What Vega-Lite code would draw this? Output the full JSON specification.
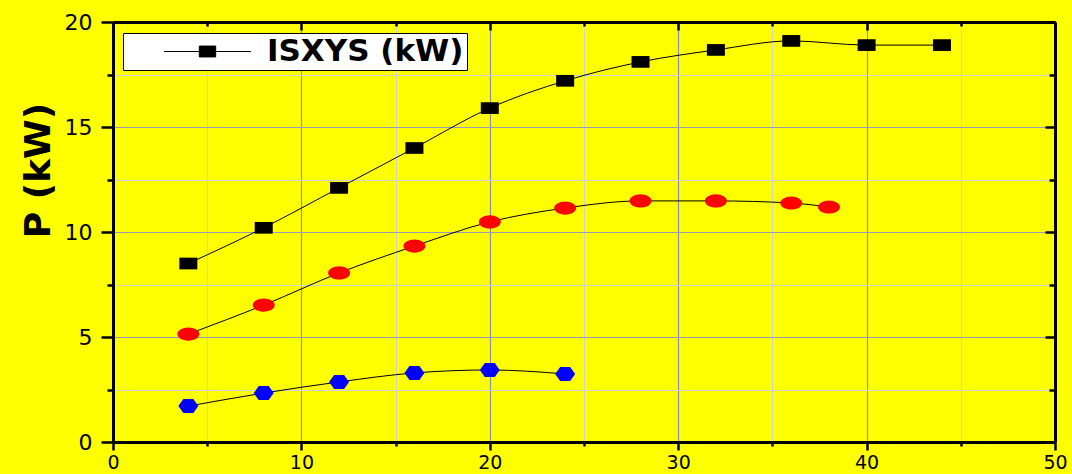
{
  "$schema": "https://vega.github.io/schema/vega-lite/v6.json",
  "width": 942,
  "height": 420,
  "autosize": {"type": "none"},
  "padding": {"left": 113, "top": 22, "right": 17, "bottom": 32},
  "background": "#ffff00",
  "config": {
    "view": {"stroke": null},
    "font": "DejaVu Sans",
    "axis": {"labelFont": "DejaVu Sans", "labelColor": "black", "labelFontSize": 22, "domainColor": "black", "domainWidth": 3, "tickColor": "black", "tickWidth": 2.5, "gridWidth": 1.2}
  },
  "data": {
    "values": [
      {"series": "ISXYS (kW)", "x": 4, "y": 8.5},
      {"series": "ISXYS (kW)", "x": 8, "y": 10.2},
      {"series": "ISXYS (kW)", "x": 12, "y": 12.1},
      {"series": "ISXYS (kW)", "x": 16, "y": 14.0},
      {"series": "ISXYS (kW)", "x": 20, "y": 15.9},
      {"series": "ISXYS (kW)", "x": 24, "y": 17.2},
      {"series": "ISXYS (kW)", "x": 28, "y": 18.1},
      {"series": "ISXYS (kW)", "x": 32, "y": 18.67},
      {"series": "ISXYS (kW)", "x": 36, "y": 19.1},
      {"series": "ISXYS (kW)", "x": 40, "y": 18.9},
      {"series": "ISXYS (kW)", "x": 44, "y": 18.9},
      {"series": "red", "x": 4, "y": 5.14},
      {"series": "red", "x": 8, "y": 6.52},
      {"series": "red", "x": 12, "y": 8.05},
      {"series": "red", "x": 16, "y": 9.33},
      {"series": "red", "x": 20, "y": 10.48},
      {"series": "red", "x": 24, "y": 11.14},
      {"series": "red", "x": 28, "y": 11.48},
      {"series": "red", "x": 32, "y": 11.48},
      {"series": "red", "x": 36, "y": 11.38},
      {"series": "red", "x": 38, "y": 11.19},
      {"series": "blue", "x": 4, "y": 1.71},
      {"series": "blue", "x": 8, "y": 2.33},
      {"series": "blue", "x": 12, "y": 2.86},
      {"series": "blue", "x": 16, "y": 3.29},
      {"series": "blue", "x": 20, "y": 3.43},
      {"series": "blue", "x": 24, "y": 3.24}
    ]
  },
  "resolve": {"axis": {"x": "independent", "y": "independent"}},
  "layer": [
    {
      "transform": [{"filter": "datum.series === 'ISXYS (kW)'"}],
      "mark": {"type": "line", "interpolate": "monotone", "color": "black", "strokeWidth": 1},
      "encoding": {
        "x": {"field": "x", "type": "quantitative", "scale": {"domain": [0, 50], "nice": false},
          "axis": {"orient": "bottom", "values": [0, 10, 20, 30, 40, 50], "title": null, "tickSize": 8, "labelPadding": 3, "labelFontSize": 19, "grid": true, "gridColor": "#8c8cb0", "labelFlush": false}},
        "y": {"field": "y", "type": "quantitative", "scale": {"domain": [0, 20], "nice": false, "zero": false},
          "axis": {"orient": "left", "values": [0, 5, 10, 15, 20], "title": "P (kW)", "tickSize": 12, "labelPadding": 9, "grid": true, "gridColor": "#9a9ab4",
            "titleFont": "DejaVu Sans", "titleFontWeight": "bold", "titleFontSize": 36, "titleColor": "black", "titleAngle": -90, "titleX": -75, "titleY": 148, "titleAlign": "center", "titleBaseline": "middle"}}
      }
    },
    {
      "transform": [{"filter": "datum.series === 'red'"}],
      "mark": {"type": "line", "interpolate": "monotone", "color": "black", "strokeWidth": 1},
      "encoding": {
        "x": {"field": "x", "type": "quantitative", "scale": {"domain": [0, 50], "nice": false},
          "axis": {"orient": "bottom", "values": [5, 15, 25, 35, 45], "title": null, "labels": false, "domain": false, "tickSize": 4, "grid": true, "gridColor": "#d2d2d2"}},
        "y": {"field": "y", "type": "quantitative",
          "axis": {"orient": "left", "values": [2.5, 7.5, 12.5, 17.5], "title": null, "labels": false, "domain": false, "tickSize": 6, "grid": true, "gridColor": "#d2d2d2"}}
      }
    },
    {
      "transform": [{"filter": "datum.series === 'blue'"}],
      "mark": {"type": "line", "interpolate": "monotone", "color": "black", "strokeWidth": 1},
      "encoding": {
        "x": {"field": "x", "type": "quantitative",
          "axis": {"orient": "top", "values": [0, 10, 20, 30, 40, 50], "title": null, "labels": false, "tickSize": -8, "grid": false}},
        "y": {"field": "y", "type": "quantitative",
          "axis": {"orient": "right", "values": [0, 5, 10, 15, 20], "title": null, "labels": false, "tickSize": -10, "grid": false}}
      }
    },
    {
      "transform": [{"filter": "datum.series === 'blue'"}],
      "mark": {"type": "point", "filled": true, "opacity": 1, "color": "#0000ff", "size": 400,
        "shape": "M-1,0L-0.5,-0.7L0.5,-0.7L1,0L0.5,0.7L-0.5,0.7Z"},
      "encoding": {
        "x": {"field": "x", "type": "quantitative",
          "axis": {"orient": "top", "values": [5, 15, 25, 35, 45], "title": null, "labels": false, "domain": false, "tickSize": -4, "grid": false}},
        "y": {"field": "y", "type": "quantitative",
          "axis": {"orient": "right", "values": [2.5, 7.5, 12.5, 17.5], "title": null, "labels": false, "domain": false, "tickSize": -6, "grid": false}}
      }
    },
    {
      "transform": [{"filter": "datum.series === 'red'"}],
      "mark": {"type": "point", "filled": true, "opacity": 1, "color": "#ff0000", "size": 484,
        "shape": "M-1,0C-1,-0.331 -0.552,-0.6 0,-0.6C0.552,-0.6 1,-0.331 1,0C1,0.331 0.552,0.6 0,0.6C-0.552,0.6 -1,0.331 -1,0Z"},
      "encoding": {
        "x": {"field": "x", "type": "quantitative", "axis": null},
        "y": {"field": "y", "type": "quantitative", "axis": null}
      }
    },
    {
      "transform": [{"filter": "datum.series === 'ISXYS (kW)'"}],
      "mark": {"type": "point", "filled": true, "opacity": 1, "size": 324,
        "shape": "M-1,-0.65H1V0.65H-1Z"},
      "encoding": {
        "x": {"field": "x", "type": "quantitative", "axis": null},
        "y": {"field": "y", "type": "quantitative", "axis": null},
        "color": {"field": "series", "type": "nominal", "scale": {"domain": ["ISXYS (kW)"], "range": ["black"]},
          "legend": {"title": null, "orient": "none", "legendX": 10, "legendY": 11, "fillColor": "white", "strokeColor": "black", "padding": 3,
            "symbolType": "M-4,0H4M-0.75,-0.5H0.75V0.5H-0.75Z", "symbolSize": 475, "symbolFillColor": "black", "symbolStrokeColor": "black", "symbolStrokeWidth": 1, "symbolOpacity": 1,
            "symbolOffset": 66, "labelOffset": 44, "labelFont": "DejaVu Sans", "labelFontWeight": "bold", "labelFontSize": 31, "labelColor": "black", "labelLimit": 400}}
      }
    }
  ]
}
